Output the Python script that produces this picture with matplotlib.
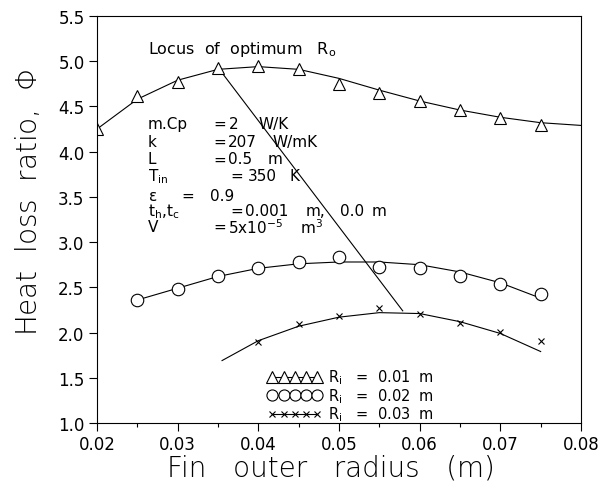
import matplotlib
matplotlib.use("Agg")
import matplotlib.pyplot as plt
from matplotlib.lines import Line2D
from matplotlib.ticker import MultipleLocator

plt.rcParams.update({
    "font.family": "DejaVu Sans",
    "font.size": 12,
    "mathtext.default": "regular",
})

# measured points (markers)
r_o_tri = [0.020, 0.025, 0.030, 0.035, 0.040, 0.045, 0.050, 0.055, 0.060, 0.065, 0.070, 0.075]
phi_tri = [4.25, 4.62, 4.77, 4.93, 4.95, 4.91, 4.75, 4.65, 4.56, 4.46, 4.37, 4.30]

r_o_circ = [0.025, 0.030, 0.035, 0.040, 0.045, 0.050, 0.055, 0.060, 0.065, 0.070, 0.075]
phi_circ = [2.36, 2.48, 2.63, 2.71, 2.78, 2.84, 2.72, 2.71, 2.62, 2.54, 2.43]

r_o_x = [0.040, 0.045, 0.050, 0.055, 0.060, 0.065, 0.070, 0.075]
phi_x = [1.90, 2.09, 2.18, 2.27, 2.21, 2.11, 2.01, 1.91]

# fitted curves
fit_tri_x = [0.020, 0.025, 0.030, 0.035, 0.040, 0.045, 0.050, 0.055, 0.060, 0.065, 0.070, 0.075, 0.080]
fit_tri_y = [4.25, 4.58, 4.79, 4.91, 4.94, 4.91, 4.81, 4.68, 4.56, 4.46, 4.38, 4.32, 4.29]

fit_circ_x = [0.025, 0.030, 0.035, 0.040, 0.045, 0.050, 0.055, 0.060, 0.065, 0.070, 0.075]
fit_circ_y = [2.36, 2.49, 2.62, 2.71, 2.76, 2.78, 2.78, 2.75, 2.67, 2.55, 2.38]

fit_x_x = [0.0355, 0.040, 0.045, 0.050, 0.055, 0.060, 0.065, 0.070, 0.075]
fit_x_y = [1.69, 1.91, 2.07, 2.17, 2.22, 2.21, 2.12, 1.99, 1.79]

# locus of optimum outer radius
locus_x = [0.0350, 0.0579]
locus_y = [4.93, 2.24]

legend_labels = ["R$_i$   =  0.01  m", "R$_i$   =  0.02  m", "R$_i$   =  0.03  m"]

fig = plt.figure(figsize=(6.09, 4.85), dpi=100)
ax = fig.add_axes([0.1593, 0.1258, 0.7947, 0.8392])

lw = 0.8
ax.plot(fit_tri_x, fit_tri_y, color="black", lw=lw)
ax.plot(fit_circ_x, fit_circ_y, color="black", lw=lw)
ax.plot(fit_x_x, fit_x_y, color="black", lw=lw)
ax.plot(locus_x, locus_y, color="black", lw=lw)

ax.plot(r_o_tri, phi_tri, ls="none", marker="^", ms=9, mfc="white", mec="black", mew=0.8)
ax.plot(r_o_circ, phi_circ, ls="none", marker="o", ms=9, mfc="white", mec="black", mew=0.8)
ax.plot(r_o_x, phi_x, ls="none", marker="x", ms=5, mec="black", mew=0.8)

ax.set_xlim(0.02, 0.08)
ax.set_ylim(1.0, 5.5)
ax.xaxis.set_major_locator(MultipleLocator(0.01))
ax.xaxis.set_minor_locator(MultipleLocator(0.005))
ax.yaxis.set_major_locator(MultipleLocator(0.5))
ax.xaxis.set_major_formatter(plt.FuncFormatter(lambda v, p: f"{v:.2f}"))
ax.yaxis.set_major_formatter(plt.FuncFormatter(lambda v, p: f"{v:.1f}"))
ax.tick_params(which="major", direction="out", length=6, width=0.8, labelsize=12, pad=3)
ax.tick_params(which="minor", direction="out", length=3, width=0.8)
for s in ax.spines.values():
    s.set_linewidth(0.8)

ax.set_xlabel("Fin   outer   radius   (m)", fontsize=20, fontweight="light")
ax.xaxis.set_label_coords(0.4835, -0.076)
ax.set_ylabel("Heat  loss  ratio,  $\\Phi$", fontsize=20, fontweight="light")
ax.yaxis.set_label_coords(-0.112, 0.545)

ax.text(0.0263, 5.14, "Locus  of  optimum   R$_o$", fontsize=11.5, va="center")

# parameter block
fs = 11
rows = [
    (4.31, [(0.0263, "m.Cp"), (0.0344, "="), (0.0364, "2"), (0.0400, "W/K")]),
    (4.11, [(0.0263, "k"), (0.0344, "="), (0.0362, "207"), (0.0417, "W/mK")]),
    (3.92, [(0.0263, "L"), (0.0344, "="), (0.0362, "0.5"), (0.0412, "m")]),
    (3.74, [(0.0263, "T$_{in}$"), (0.0365, "="), (0.0387, "350"), (0.0439, "K")]),
    (3.52, [(0.0263, "$\\epsilon$"), (0.0305, "="), (0.0340, "0.9")]),
    (3.35, [(0.0263, "t$_h$,t$_c$"), (0.0365, "="), (0.0383, "0.001"), (0.0459, "m,"), (0.0501, "0.0"), (0.0540, "m")]),
    (3.17, [(0.0263, "V"), (0.0344, "="), (0.0362, "5x10$^{-5}$"), (0.0452, "m$^3$")]),
]
for yv, parts in rows:
    for xv, s in parts:
        ax.text(xv, yv, s, fontsize=fs, va="center")

handles = [
    Line2D([], [], color="black", lw=lw, marker="^", ms=8, mfc="white", mec="black", mew=0.8),
    Line2D([], [], color="black", lw=lw, marker="o", ms=8, mfc="white", mec="black", mew=0.8),
    Line2D([], [], color="black", lw=lw, marker="x", ms=5, mec="black", mew=0.8),
]
ax.legend(handles, legend_labels, loc="upper left", bbox_to_anchor=(0.353, 0.137),
          numpoints=5, handlelength=3.7, handletextpad=0.4, labelspacing=0.0,
          handleheight=0.5, frameon=False, borderaxespad=0, borderpad=0, fontsize=10.5)

fig.savefig("out.png", dpi=100)
